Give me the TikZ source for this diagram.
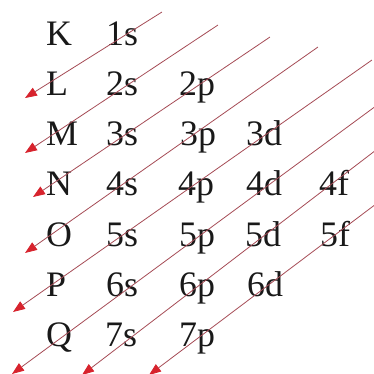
\documentclass[tikz,border=0pt]{standalone}
\usepackage{fontspec}
\setmainfont{Liberation Serif}
\usepackage{tikz}
\usetikzlibrary{arrows.meta}

\definecolor{linered}{RGB}{165,75,85}
\definecolor{tipred}{RGB}{215,35,45}
\tikzset{
  shell/.style={anchor=base west, inner sep=0pt, text=black!90, font=\fontsize{36}{36}\selectfont},
  diagline/.style={draw=linered, line width=0.8bp, -{Triangle[length=12bp, width=9bp, color=tipred]}}
}

\begin{document}
\begin{tikzpicture}[x=1bp, y=-1bp]
    \useasboundingbox (0,0) rectangle (374,374);
    \clip (0,0) rectangle (374,374);

    % Các lớp electron
    \foreach \name [count=\i] in {K,L,M,N,O,P,Q} {
        \node[shell] (\name) at (46, {45+50.3*(\i-1)}) {\name};
    }

    % Các phân lớp
    \foreach \n/\sub/\x in {1/s/106, 2/s/106, 2/p/179, 3/s/106, 3/p/180, 3/d/246,
                            4/s/106, 4/p/178, 4/d/246, 4/f/319,
                            5/s/106, 5/p/179, 5/d/245, 5/f/320,
                            6/s/106, 6/p/179, 6/d/247,
                            7/s/105, 7/p/179} {
        \node[shell] (\sub\n) at (\x, {45+50.3*(\n-1)}) {\n\sub};
    }

    % Các mũi tên chéo
    \foreach \k/\xa/\ya/\xb/\yb in {1/162/12/25/98, 2/218/25/25/153, 3/270/37/33/197,
                                    4/318/47/25/253, 5/372/60/13/312, 6/380/103/12/374,
                                    7/380/147/82/375, 8/380/201/149/375} {
        \coordinate (t\k) at (\xa,\ya);
        \coordinate (b\k) at (\xb,\yb);
        \draw[diagline] (t\k) -- (b\k);
    }
\end{tikzpicture}
\end{document}
